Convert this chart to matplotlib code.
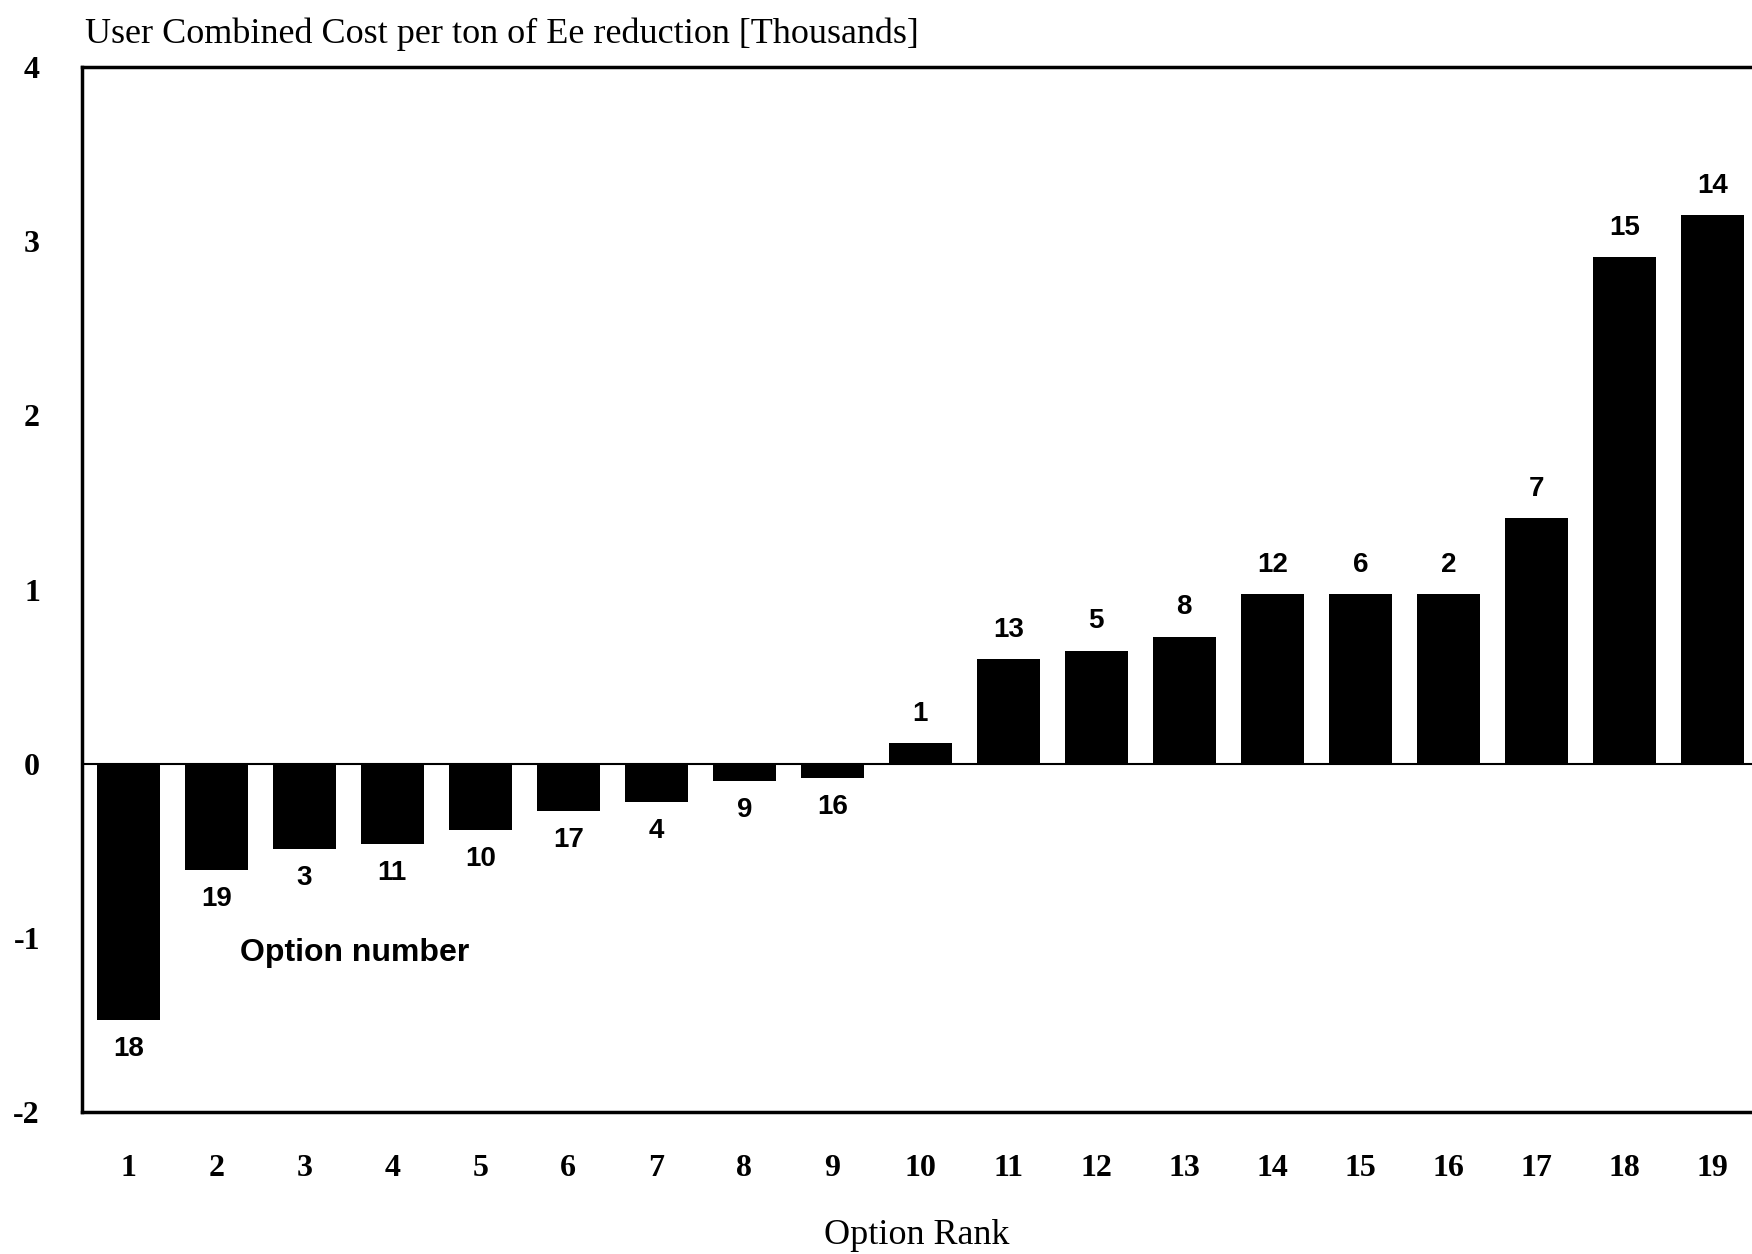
import matplotlib.pyplot as plt

rank = list(range(1, 20))
cost = [-1.47, -0.61, -0.49, -0.46, -0.38, -0.27, -0.22, -0.10, -0.08, 0.12,
        0.60, 0.65, 0.73, 0.975, 0.975, 0.975, 1.41, 2.91, 3.15]
option = ['18', '19', '3', '11', '10', '17', '4', '9', '16', '1',
          '13', '5', '8', '12', '6', '2', '7', '15', '14']

serif = ['Liberation Serif', 'DejaVu Serif']
sans = ['Liberation Sans', 'DejaVu Sans']
plt.rcParams['axes.unicode_minus'] = False

fig = plt.figure(figsize=(17.52, 12.54), dpi=100)
ax = fig.add_axes([0.0466, 0.1132, 0.9534, 0.8333])

ax.bar(rank, cost, width=0.72, color='black')
ax.axhline(0, color='black', lw=1.5)

for r, c, o in zip(rank, cost, option):
    off = 21 if c >= 0 else -21
    ax.annotate(o, (r, c), xytext=(0, off), textcoords='offset points',
                ha='center', va='center', fontsize=20, fontweight='bold', family=sans)

ax.text(2.27, -1.085, 'Option number', ha='left', va='center',
        fontsize=23, fontweight='bold', family=sans)

ax.set_xlim(0.47, 19.45)
ax.set_ylim(-2, 4)
ax.set_xticks(rank)
ax.set_yticks(range(-2, 5))
ax.tick_params(length=0, labelsize=23, pad=30)
for lab in ax.get_xticklabels() + ax.get_yticklabels():
    lab.set_family(serif)
    lab.set_fontweight('bold')
for s in ax.spines.values():
    s.set_linewidth(2.5)
ax.spines['right'].set_visible(False)

ax.set_xlabel('Option Rank', fontsize=26, family=serif, labelpad=26)
fig.text(0.0485, 0.973, 'User Combined Cost per ton of Ee reduction [Thousands]',
         fontsize=26, family=serif, va='center', ha='left')

fig.savefig('out.png', dpi=100)
